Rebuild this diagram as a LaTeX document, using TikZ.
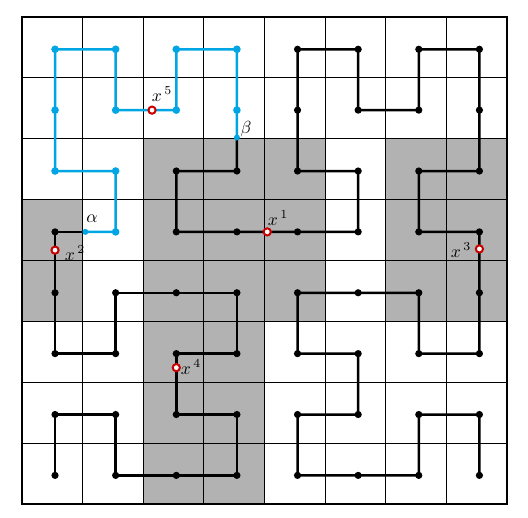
\documentclass[tikz,border=0pt]{standalone}
\usepackage{graphicx}
\usetikzlibrary{calc}
\definecolor{curveblue}{RGB}{0,166,228}
\definecolor{shadegray}{RGB}{178,178,178}
\definecolor{ringred}{RGB}{200,0,0}
\newcommand{\biglbl}[1]{\scalebox{1.75}{$#1$}}
\begin{document}
\begin{tikzpicture}[x=1pt,y=-1pt,
  gridline/.style={line width=1pt},
  frame/.style={line width=2.8pt},
  shadecell/.style={fill=shadegray},
  blackpath/.style={line width=2.5pt, line join=round, line cap=round},
  bluepath/.style={blackpath, draw=curveblue},
  bdot/.style={fill=black},
  cdot/.style={fill=curveblue},
  ring/.style={draw=ringred, line width=2pt, fill=white},
  lab/.style={inner sep=0pt}]
\useasboundingbox (0,0) rectangle (528,518);
% cell corners
\def\X#1{(22+60.625*#1)}
\def\Y#1{(17+60.875*#1)}
% gray regions
\fill[shadecell] ({\X{2}},{\Y{2}}) rectangle ({\X{5}},{\Y{5}});
\fill[shadecell] ({\X{6}},{\Y{2}}) rectangle ({\X{8}},{\Y{5}});
\fill[shadecell] ({\X{0}},{\Y{3}}) rectangle ({\X{1}},{\Y{5}});
\fill[shadecell] ({\X{2}},{\Y{5}}) rectangle ({\X{4}},{\Y{8}});
% grid
\foreach \i in {1,...,7} {
  \draw[gridline] ({\X{\i}},{\Y{0}}) -- ({\X{\i}},{\Y{8}});
  \draw[gridline] ({\X{0}},{\Y{\i}}) -- ({\X{8}},{\Y{\i}});
}
\draw[frame] ({\X{0}},{\Y{0}}) rectangle ({\X{8}},{\Y{8}});
% curve points
\foreach \c in {0,...,7} {
  \foreach \r in {0,...,7} {
    \coordinate (p\c\r) at ({22+60.625*(\c+0.545)},{17+60.875*(\r+0.53)});
  }
}
\coordinate (alpha) at ($(p03)!0.5!(p13)$);
\coordinate (beta) at ($(p31)!0.45!(p32)$);
\coordinate (x1) at ($(p33)!0.5!(p43)$);
\coordinate (x2) at ($(p03)!0.3!(p04)$);
\coordinate (x3) at ($(p73)!0.28!(p74)$);
\coordinate (x4) at ($(p25)!0.23!(p26)$);
\coordinate (x5) at ($(p11)!0.6!(p21)$);
% black part 1
\draw[blackpath] (p07) -- (p06) -- (p16) -- (p17) -- (p27) -- (p37) -- (p36) -- (p26)
  -- (p25) -- (p35) -- (p34) -- (p24) -- (p14) -- (p15) -- (p05) -- (p04) -- (p03) -- (alpha);
% blue part
\draw[bluepath] (alpha) -- (p13) -- (p12) -- (p02) -- (p01) -- (p00) -- (p10) -- (p11)
  -- (p21) -- (p20) -- (p30) -- (p31) -- (beta);
% black part 2
\draw[blackpath] (beta) -- (p32) -- (p22) -- (p23) -- (p33) -- (p43) -- (p53) -- (p52)
  -- (p42) -- (p41) -- (p40) -- (p50) -- (p51) -- (p61) -- (p60) -- (p70) -- (p71)
  -- (p72) -- (p62) -- (p63) -- (p73) -- (p74) -- (p75) -- (p65) -- (p64) -- (p54)
  -- (p44) -- (p45) -- (p55) -- (p56) -- (p46) -- (p47) -- (p57) -- (p67) -- (p66)
  -- (p76) -- (p77);
% dots
\foreach \p in {p07,p06,p16,p17,p27,p37,p36,p26,p25,p35,p34,p24,p14,p15,p05,p04,p03,
  p32,p22,p23,p33,p43,p53,p52,p42,p41,p40,p50,p51,p61,p60,p70,p71,p72,p62,p63,p73,
  p74,p75,p65,p64,p54,p44,p45,p55,p56,p46,p47,p57,p67,p66,p76,p77}
  \fill[bdot] (\p) circle[radius=3.6pt];
\foreach \p in {p13,p12,p02,p01,p00,p10,p11,p21,p20,p30,p31}
  \fill[cdot] (\p) circle[radius=3.8pt];
\fill[cdot] (alpha) circle[radius=3pt];
\fill[cdot] (beta) circle[radius=3pt];
% rings
\foreach \p in {x1,x2,x3,x4,x5}
  \draw[ring] (\p) circle[radius=3.6pt];
% labels
\node[lab] (l5) at (162,94) {\biglbl{x^{\,5}}};
\node[lab] (lb) at (246,129) {\biglbl{\beta}};
\node[lab] (la) at (92,219) {\biglbl{\alpha}};
\node[lab] (l2) at (75,253) {\biglbl{x^{\,2}}};
\node[lab] (l1) at (278,218) {\biglbl{x^{\,1}}};
\node[lab] (l3) at (461,250) {\biglbl{x^{\,3}}};
\node[lab] (l4) at (191,367) {\biglbl{x^{\,4}}};
\end{tikzpicture}
\end{document}
